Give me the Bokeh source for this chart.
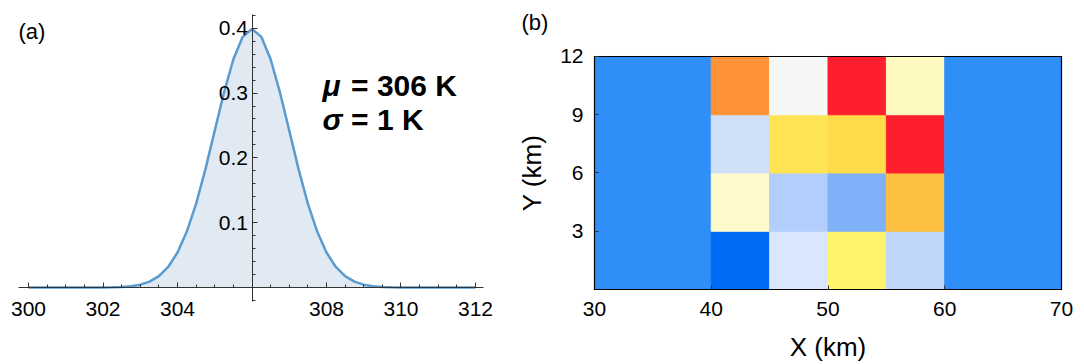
from bokeh.plotting import figure
from bokeh.models import FixedTicker, Label, LinearColorMapper, ColumnDataSource, LinearAxis
from bokeh.layouts import row
from bokeh.transform import transform
from bokeh.embed import file_html
from bokeh.resources import INLINE

# ---------------- Panel (a): temperature distribution ----------------
temp_k = [300.0, 301.0, 302.0, 302.25, 302.5, 302.75, 303.0, 303.25, 303.5, 303.75,
          304.0, 304.25, 304.5, 304.75, 305.0, 305.25, 305.5, 305.75, 306.0,
          306.25, 306.5, 306.75, 307.0, 307.25, 307.5, 307.75, 308.0, 308.25,
          308.5, 308.75, 309.0, 309.25, 309.5, 309.75, 310.0, 311.0, 312.0]
density = [0.0000, 0.0000, 0.0001, 0.0004, 0.0009, 0.0020, 0.0044, 0.0091, 0.0175, 0.0317,
           0.0540, 0.0863, 0.1295, 0.1826, 0.2420, 0.3011, 0.3521, 0.3867, 0.3989,
           0.3867, 0.3521, 0.3011, 0.2420, 0.1826, 0.1295, 0.0863, 0.0540, 0.0317,
           0.0175, 0.0091, 0.0044, 0.0020, 0.0009, 0.0004, 0.0001, 0.0000, 0.0000]
x_tick_values = [300, 302, 304, 308, 310, 312]
x_minor_values = [300.5 + 0.5 * i for i in range(23)]
y_tick_values = [0.1, 0.2, 0.3, 0.4]
y_minor_values = [-0.02 + 0.02 * i for i in range(23)]

FONT = "Liberation Sans"
H = 362

pa = figure(width=514, height=H, output_backend="svg", toolbar_location=None,
            x_range=(299.2483, 313.047), y_range=(-0.11571, 0.44277),
            min_border=0, min_border_left=0, min_border_right=0,
            min_border_top=0, min_border_bottom=0)
pa.outline_line_color = None
pa.grid.visible = False
pa.background_fill_color = "white"

src_a = ColumnDataSource(dict(x=temp_k, y=density, y0=[0.0] * len(temp_k)))
pa.varea(x="x", y1="y0", y2="y", source=src_a, fill_color="#e1e9f3")
pa.line(x="x", y="y", source=src_a, line_color="#5a9bd0", line_width=2.5)

xa = pa.xaxis[0]
xa.fixed_location = 0
xa.bounds = (299.73, 312.21)
xa.ticker = FixedTicker(ticks=x_tick_values, minor_ticks=x_minor_values)
ya = pa.yaxis[0]
ya.fixed_location = 306
ya.bounds = (-0.0216, 0.4211)
ya.ticker = FixedTicker(ticks=y_tick_values, minor_ticks=y_minor_values)
for ax in (xa, ya):
    ax.axis_line_color = "#333333"
    ax.major_tick_line_color = "#333333"
    ax.minor_tick_line_color = "#333333"
    ax.major_tick_in = 5
    ax.major_tick_out = 0
    ax.minor_tick_in = 3
    ax.minor_tick_out = 0
    ax.major_label_text_font = FONT
    ax.major_label_text_font_size = "21px"
    ax.major_label_text_color = "black"
xa.major_label_standoff = 15
ya.major_label_standoff = 4

pa.add_layout(Label(x=299.73, y=0.415, text="(a)", text_font=FONT, text_font_size="22px",
                    text_baseline="top", text_align="left", text_color="black"))
for yy, sym, rest in ((0.312, "μ", "= 306 K"), (0.259, "σ", "= 1 K")):
    pa.add_layout(Label(x=307.89, y=yy, text=sym, text_font=FONT, text_font_size="30px",
                        text_font_style="bold italic", text_baseline="alphabetic", text_color="black"))
    pa.add_layout(Label(x=308.66, y=yy, text=rest, text_font=FONT, text_font_size="30px",
                        text_font_style="bold", text_baseline="alphabetic", text_color="black"))

# ---------------- Panel (b): temperature field ----------------
x_centers = [32.5, 37.5, 42.5, 47.5, 52.5, 57.5, 62.5, 67.5]
y_centers = [1.5, 4.5, 7.5, 10.5]
cell_temps = [
    [303.6, 303.6, 303.0, 305.76, 306.6, 305.28, 303.6, 303.6],   # Y 0-3 km
    [303.6, 303.6, 306.3, 305.1, 304.5, 307.68, 303.6, 303.6],    # Y 3-6 km
    [303.6, 303.6, 305.52, 307.08, 307.32, 309.0, 303.6, 303.6],  # Y 6-9 km
    [303.6, 303.6, 308.1, 306.0, 309.0, 306.36, 303.6, 303.6],    # Y 9-12 km
]
bx_ticks = [30, 40, 50, 60, 70]
by_ticks = [3, 6, 9, 12]

# colour scale stops (temperature, colour)
stops = [(303.0, "#006cf5"), (303.6, "#2f8ff8"), (304.5, "#80b0f8"), (305.1, "#b3cefa"),
         (305.28, "#c0d6fb"), (305.52, "#d0e0f9"), (305.76, "#d9e6fd"), (306.0, "#f5f7f4"),
         (306.3, "#fefacc"), (306.36, "#fef9c0"), (306.6, "#fef56a"), (307.08, "#fee352"),
         (307.32, "#fedb48"), (307.68, "#fec040"), (308.1, "#fe9238"), (309.0, "#fe1f2e")]
T_LOW, T_HIGH, N = 303.0, 309.0, 601


def hex2rgb(h):
    return tuple(int(h[i:i + 2], 16) for i in (1, 3, 5))


palette = []
for i in range(N):
    t = T_LOW + (T_HIGH - T_LOW) * i / (N - 1)
    for (t0, c0), (t1, c1) in zip(stops[:-1], stops[1:]):
        if t0 <= t <= t1 + 1e-9:
            f = 0 if t1 == t0 else (t - t0) / (t1 - t0)
            a, b = hex2rgb(c0), hex2rgb(c1)
            palette.append("#%02x%02x%02x" % tuple(round(a[k] + (b[k] - a[k]) * f) for k in range(3)))
            break
mapper = LinearColorMapper(palette=palette, low=T_LOW, high=T_HIGH)

xs, ys, ts = [], [], []
for j, yc in enumerate(y_centers):
    for i, xc in enumerate(x_centers):
        xs.append(xc)
        ys.append(yc)
        ts.append(cell_temps[j][i])
src_b = ColumnDataSource(dict(x=xs, y=ys, t=ts))

pb = figure(width=566, height=H, output_backend="svg", toolbar_location=None,
            x_range=(23.1477, 71.6274), y_range=(-3.7596, 14.884),
            min_border=0, min_border_left=0, min_border_right=0,
            min_border_top=0, min_border_bottom=0)
pb.grid.visible = False
pb.outline_line_color = None
pb.rect(x="x", y="y", width=5, height=3, source=src_b,
        fill_color=transform("t", mapper), line_color=transform("t", mapper), line_width=1)

bxa = pb.xaxis[0]
bxa.fixed_location = 0
bxa.bounds = (30, 70)
bxa.ticker = FixedTicker(ticks=bx_ticks, minor_ticks=[])
bxa.axis_label = "X (km)"
bya = pb.yaxis[0]
bya.fixed_location = 30
bya.bounds = (0, 12)
bya.ticker = FixedTicker(ticks=by_ticks, minor_ticks=[])
bya.axis_label = "Y (km)"
for ax in (bxa, bya):
    ax.axis_line_color = "black"
    ax.axis_line_width = 1.2
    ax.axis_line_cap = "square"
    ax.major_tick_line_color = "#333333"
    ax.major_tick_in = 4
    ax.major_tick_out = 0
    ax.minor_tick_line_color = None
    ax.major_label_text_font = FONT
    ax.major_label_text_font_size = "21px"
    ax.major_label_text_color = "black"
    ax.axis_label_text_font = FONT
    ax.axis_label_text_font_size = "26px"
    ax.axis_label_text_font_style = "normal"
    ax.axis_label_text_color = "black"
bxa.major_label_standoff = 12
bya.major_label_standoff = 11
bxa.axis_label_standoff = 13
bya.axis_label_standoff = 10

top_ax = LinearAxis(fixed_location=12, bounds=(30, 70), ticker=FixedTicker(ticks=[], minor_ticks=[]),
                    major_label_text_font_size="0px", axis_line_color="black", axis_line_width=1.2,
                    axis_line_cap="square")
right_ax = LinearAxis(fixed_location=70, bounds=(0, 12), ticker=FixedTicker(ticks=[], minor_ticks=[]),
                      major_label_text_font_size="0px", axis_line_color="black", axis_line_width=1.2,
                      axis_line_cap="square")
pb.add_layout(top_ax, "above")
pb.add_layout(right_ax, "right")

pb.add_layout(Label(x=23.75, y=14.42, text="(b)", text_font=FONT, text_font_size="22px",
                    text_baseline="top", text_align="left", text_color="black"))

layout = row(pa, pb)
open("out.html", "w").write(file_html(layout, INLINE))
